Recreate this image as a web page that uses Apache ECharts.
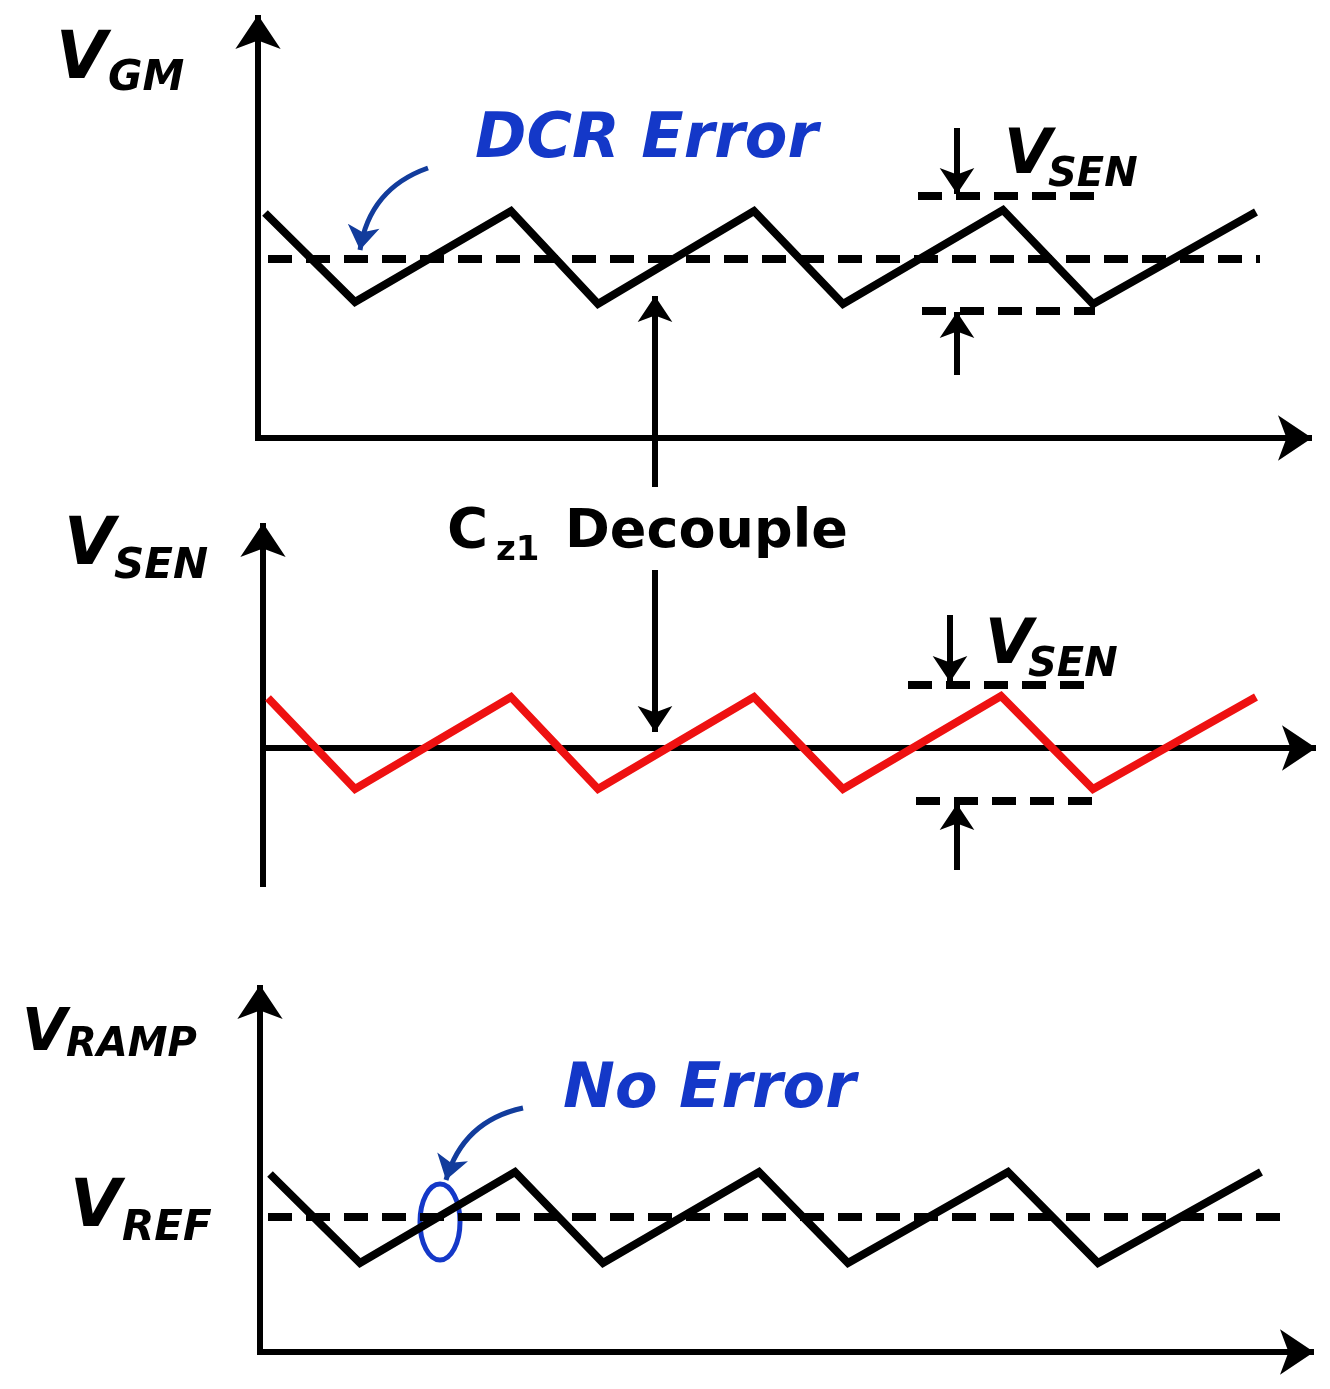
<!DOCTYPE html>
<html lang="en">
<head>
    <meta charset="UTF-8">
    <title>DCR Error</title>
    <script src="https://cdn.jsdelivr.net/npm/echarts@6/dist/echarts.min.js"></script>
    <style>body{margin:0;background:#fff}</style>
</head>
<body>
<div id="main" style="width: 1330px;height:1389px;"></div>
<script>
    // waveform vertices (page units, y down)
    let wave1 = [[265,213],[355,302],[511,211],[598,304],[754,211],[843,304],[1003,210],[1093,304],[1256,212]];
    let wave2 = [[268,698],[355,789],[511,697],[598,789],[754,697],[843,789],[1001,696],[1093,789],[1256,697]];
    let wave3 = [[270,1174],[360,1263],[515,1172],[603,1263],[759,1172],[848,1263],[1008,1172],[1098,1263],[1261,1172]];
    // dashed levels
    let dashes = [
        [[268,259],[1260,259]],
        [[918,196],[1098,196]],
        [[922,311],[1095,311]],
        [[908,685],[1092,685]],
        [[916,801],[1092,801]],
        [[268,1217],[1280,1217]]
    ];
    // arrows: from -> to (arrow at "to")
    let axes = [
        [[258,440],[258,15]], [[255,438],[1312,438]],
        [[263,887],[263,523]], [[263,748],[1316,748]],
        [[260,1355],[260,985]], [[257,1352],[1314,1352]]
    ];
    let arrows = [
        [[957,128],[957,194]], [[957,375],[957,312]],
        [[950,615],[950,682]], [[957,870],[957,804]],
        [[655,487],[655,296]], [[655,570],[655,732]]
    ];
    let curved = [ [[428,168],[360,250]], [[523,1108],[446,1180]] ];

    let chart = echarts.init(document.getElementById('main'));
    const blue = '#1438c8';
    const font = '"DejaVu Sans", sans-serif';

    function lineSeries(data, color, type) {
        return {
            type: 'line', data: data, symbol: 'none', silent: true,
            lineStyle: {color: color, width: 8, type: type || 'solid', cap: 'butt', join: 'miter'}
        };
    }
    function arrowLines(list, w, size, color, curve) {
        return {
            type: 'lines', coordinateSystem: 'cartesian2d', silent: true,
            symbol: ['none', 'arrow'], symbolSize: size,
            lineStyle: {color: color, width: w, opacity: 1, curveness: curve || 0},
            data: list.map(p => ({coords: p}))
        };
    }
    function txt(x, y, s, size, color, italic) {
        return {
            type: 'text', x: x, y: y,
            style: {text: s, fill: color || '#000', font: (italic === false ? '' : 'italic ') + 'bold ' + size + 'px ' + font,
                textVerticalAlign: 'bottom'}
        };
    }

    let series = [
        lineSeries(wave1, '#000'),
        lineSeries(wave2, '#ee1111'),
        lineSeries(wave3, '#000'),
        arrowLines(axes, 6, [22, 34], '#000'),
        arrowLines(arrows, 6, [18, 26], '#000'),
        arrowLines(curved, 5, [20, 24], '#123c9c', -0.3)
    ];
    dashes.forEach(d => series.push(lineSeries(d, '#000', [24, 14])));

    chart.setOption({
        animation: false,
        grid: {left: 0, right: 0, top: 0, bottom: 0},
        xAxis: {type: 'value', min: 0, max: 1330, show: false},
        yAxis: {type: 'value', min: 0, max: 1389, inverse: true, show: false},
        series: series,
        graphic: [
            txt(56, 94, 'V', 66), txt(108, 100, 'GM', 42),
            txt(475, 172, 'DCR Error', 62, blue),
            txt(1004, 188, 'V', 62), txt(1048, 196, 'SEN', 40),
            txt(64, 580, 'V', 66), txt(114, 588, 'SEN', 42),
            txt(985, 678, 'V', 62), txt(1028, 686, 'SEN', 40),
            txt(447, 560, 'C', 56, '#000', false), txt(496, 568, 'z1', 34, '#000', false),
            txt(565, 560, 'Decouple', 54, '#000', false),
            txt(22, 1064, 'V', 58), txt(66, 1066, 'RAMP', 40),
            txt(563, 1122, 'No Error', 62, blue),
            txt(70, 1242, 'V', 66), txt(122, 1250, 'REF', 42),
            {type: 'ellipse', shape: {cx: 440, cy: 1222, rx: 20, ry: 38},
                style: {fill: 'none', stroke: blue, lineWidth: 5}}
        ]
    });
</script>
</body>
</html>
